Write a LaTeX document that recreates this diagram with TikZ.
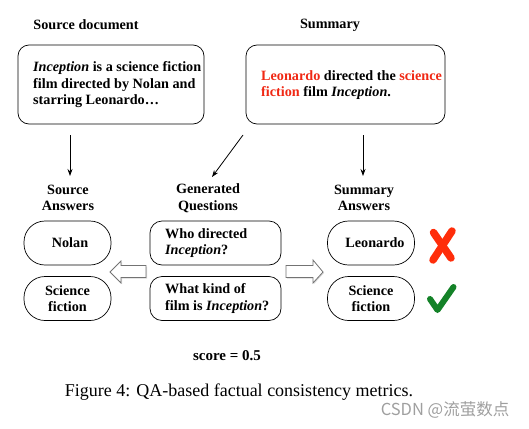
\documentclass[tikz,border=0pt]{standalone}
\usepackage{fontspec}
\setmainfont{Liberation Serif}
\newfontfamily\cjkfont{Noto Sans CJK SC}
\usetikzlibrary{arrows.meta,shapes.arrows,shadows}
\definecolor{hired}{RGB}{240,40,20}
\definecolor{okgreen}{RGB}{20,130,40}
\definecolor{xred}{RGB}{255,45,10}
\newcommand{\bfs}{\fontsize{14.2}{16.5}\selectfont\bfseries}
\tikzset{
  bx/.style={draw, rounded corners=11pt, line width=0.7pt, inner sep=0pt},
  pill/.style={draw, rounded corners=21pt, line width=0.7pt, minimum width=87pt, minimum height=44pt, inner sep=0pt, align=center, font=\bfs},
  qbox/.style={draw, rounded corners=12pt, line width=0.7pt, minimum width=131pt, minimum height=44pt, inner sep=0pt},
  txt/.style={anchor=west, align=left, inner sep=0pt, font=\bfs},
  head/.style={align=center, font=\bfs},
  arr/.style={-{Stealth[length=7pt,width=5pt]}, line width=0.8pt},
  blk/.style={draw=black!55, fill=white, line width=0.8pt, drop shadow={shadow xshift=1pt, shadow yshift=-1pt, opacity=0.3}},
}
\begin{document}
\begin{tikzpicture}[x=1pt,y=-1pt]
\useasboundingbox (0,0) rectangle (529,428);
% headings
\node[head] (hsrc) at (86,25) {Source document};
\node[head] (hsum) at (330,25) {Summary};
% top boxes
\node[bx, minimum width=186pt, minimum height=79pt] (src) at (111,84.5) {};
\node[txt] (srct) at (33,85)
  {\textit{Inception} is a science fiction\\film directed by Nolan and\\starring Leonardo\ldots};
\node[bx, minimum width=199pt, minimum height=79pt] (sum) at (345.5,84.5) {};
\node[txt] (sumt) at (261,85)
  {\textcolor{hired}{Leonardo} directed the \textcolor{hired}{science}\\\textcolor{hired}{fiction} film \textit{Inception}.};
% arrows
\coordinate (a1s) at (70,135); \coordinate (a1e) at (70,176);
\coordinate (a2s) at (243,135); \coordinate (a2e) at (212,177);
\coordinate (a3s) at (363,135); \coordinate (a3e) at (363,176);
\draw[arr] (a1s) -- (a1e);
\draw[arr] (a2s) -- (a2e);
\draw[arr] (a3s) -- (a3e);
% column headings
\node[head] (hsa) at (68,198) {Source\\Answers};
\node[head] (hgq) at (208,198) {Generated\\Questions};
\node[head] (hma) at (364,198) {Summary\\Answers};
% source answers
\node[pill] (nolan) at (67.5,243) {\hspace{5pt}Nolan};
\node[pill] (sfa) at (67.5,298.5) {Science\\fiction};
% questions
\node[qbox] (q1) at (215.5,243) {};
\node[txt] (q1t) at (165,243) {Who directed\\\textit{Inception}?};
\node[qbox] (q2) at (215.5,298.5) {};
\node[txt] (q2t) at (165,298.5) {What kind of\\film is \textit{Inception}?};
% summary answers
\node[pill] (leo) at (371,243) {\hspace{8pt}Leonardo};
\node[pill] (sfb) at (371,298.5) {Science\\fiction};
% block arrows
\draw[blk] (110,272) -- (121,261) -- (121,265.5) -- (146,265.5) -- (146,277.5) -- (121,277.5) -- (121,283) -- cycle;
\draw[blk] (323,272) -- (313,260) -- (313,265.5) -- (286,265.5) -- (286,277.5) -- (313,277.5) -- (313,283) -- cycle;
% cross and check
\node (cross) at (443,245) {};
\draw[xred, line width=7.5pt, line cap=round] (433.5,232.5) -- (451,258);
\draw[xred, line width=7.5pt, line cap=round] (452,231) -- (433,260);
\node (check) at (441,298) {};
\draw[okgreen, line width=6pt, line cap=round, line join=round] (430,299) -- (437.5,310) -- (453.5,287);
% score
\node[font=\fontsize{15}{17}\selectfont\bfseries] (score) at (227,356) {score = 0.5};
% caption
\node[font=\fontsize{18}{21}\selectfont] (cap) at (239,392) {Figure 4: QA-based factual consistency metrics.};
\node[text=gray!75, font=\cjkfont\fontsize{16.5}{18}\selectfont] (wm) at (445,410) {CSDN @流萤数点};
\end{tikzpicture}
\end{document}
